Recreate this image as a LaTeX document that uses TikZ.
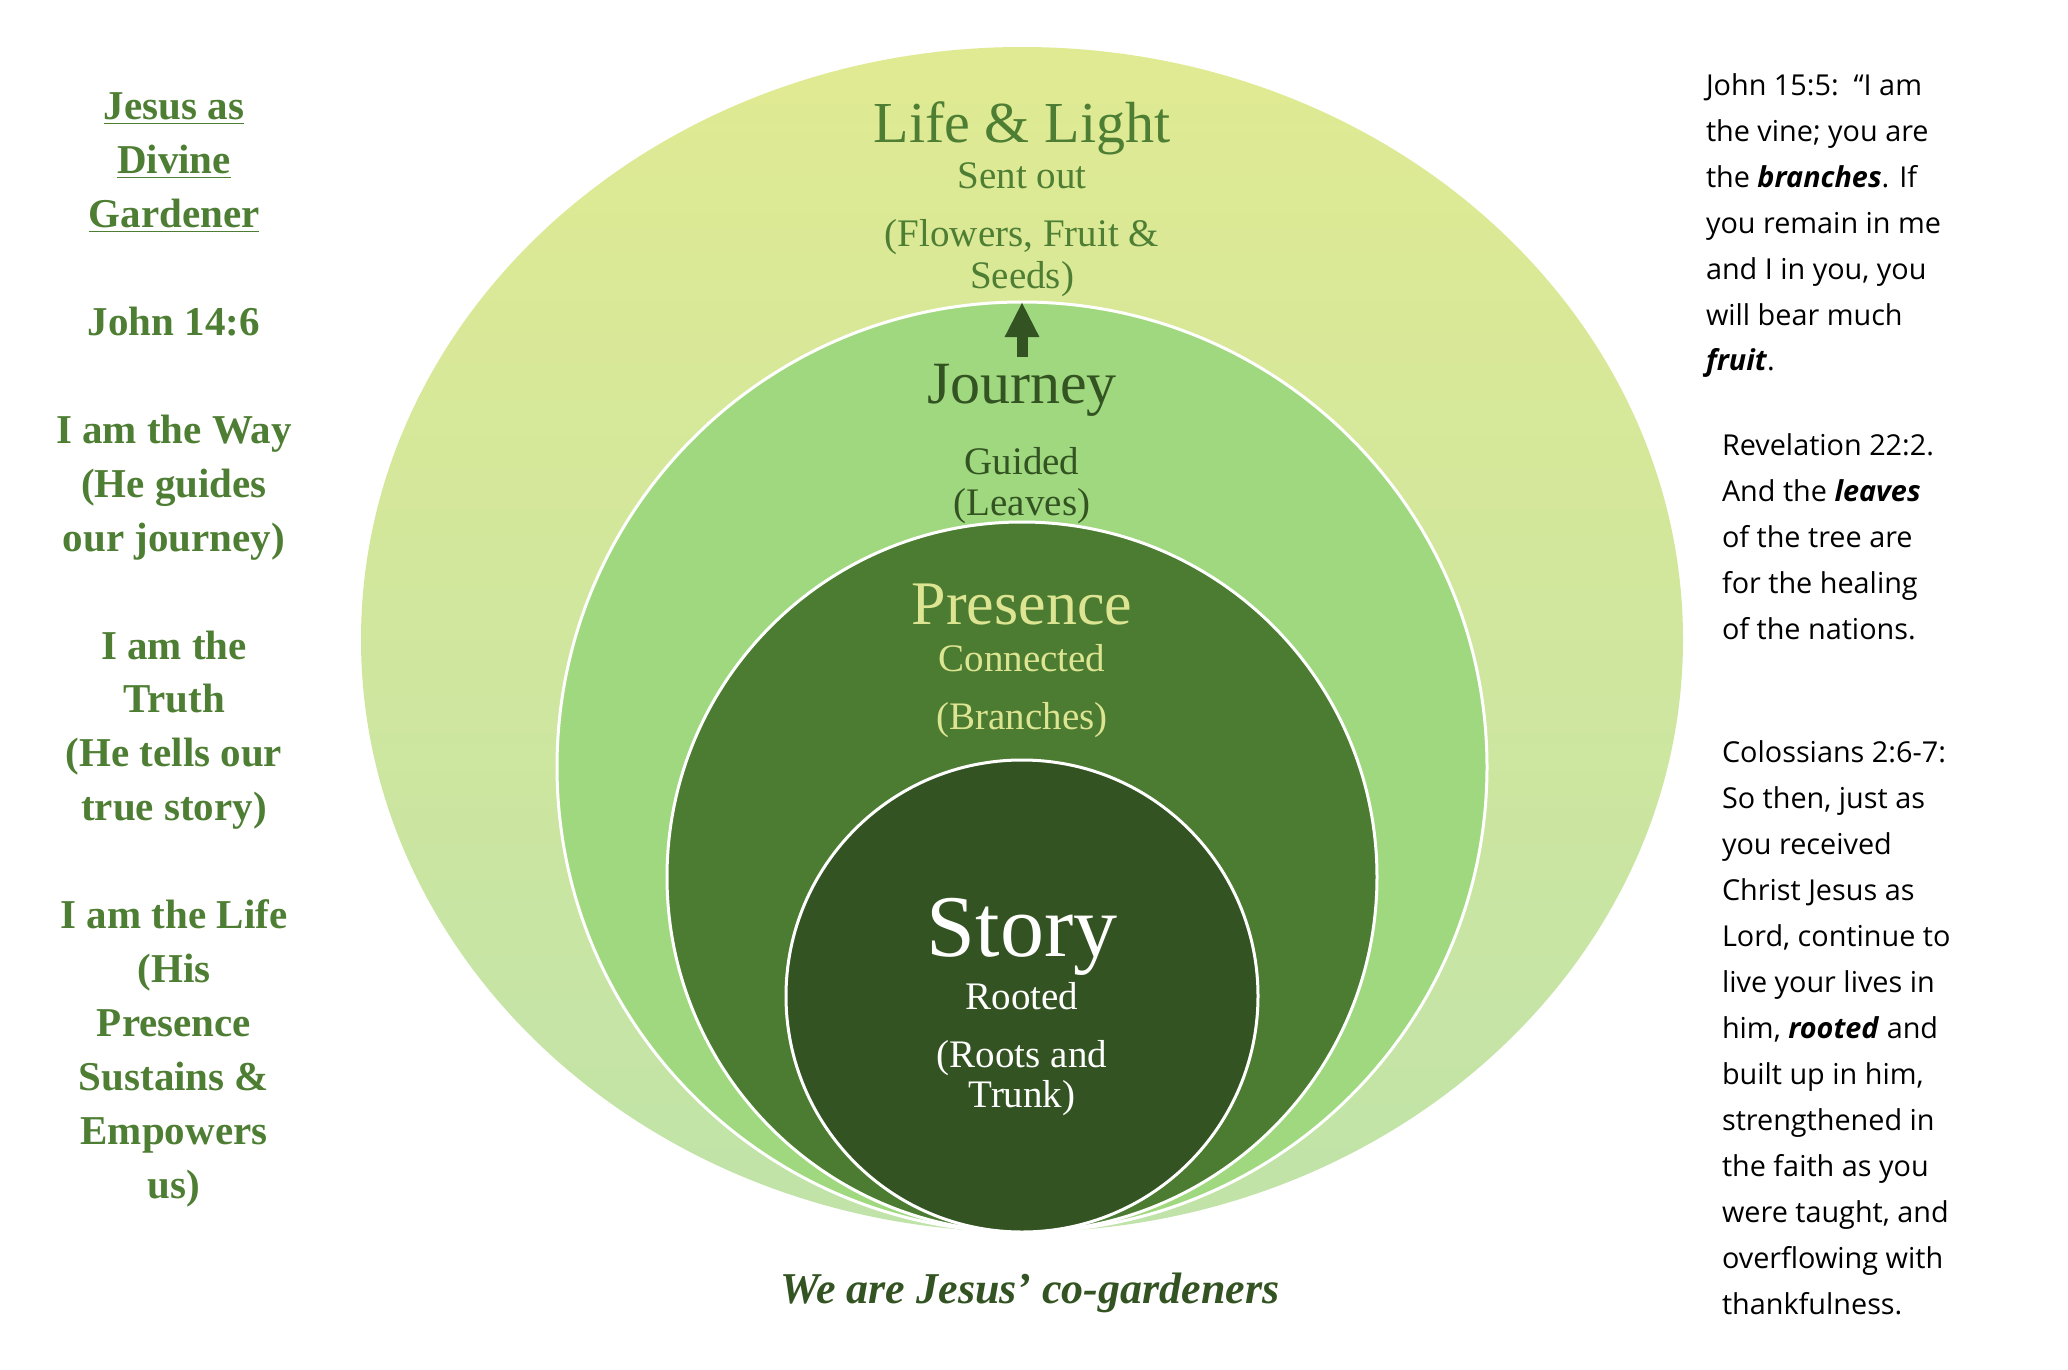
\documentclass[tikz,border=0pt]{standalone}
\usepackage{fontspec}
\setmainfont{Liberation Serif}
\newfontfamily\rsans{Open Sans}
\usetikzlibrary{shapes.geometric, arrows.meta}
\definecolor{ltgreen}{RGB}{160,216,127}
\definecolor{midgreen}{RGB}{76,124,50}
\definecolor{dkgreen}{RGB}{51,84,34}
\definecolor{paleyel}{RGB}{221,229,146}
\definecolor{outertop}{RGB}{224,234,146}
\definecolor{outerbot}{RGB}{192,227,169}
\definecolor{lefttxt}{RGB}{78,126,51}
\tikzset{
  ring/.style={circle, draw=white, line width=1.5pt, inner sep=0pt, outer sep=0pt},
  lbl/.style={anchor=base, inner sep=0pt, outer sep=0pt},
  title/.style={lbl, font=\fontsize{#1}{#1}\selectfont},
  sub/.style={lbl, font=\fontsize{19.5pt}{20pt}\selectfont},
  leftcol/.style={lbl, text=lefttxt, font=\fontsize{20.5pt}{24pt}\selectfont\bfseries},
  rightcol/.style={anchor=base west, inner sep=0pt, outer sep=0pt, text=black, font=\rsans\fontsize{14.4pt}{18pt}\selectfont},
}
\begin{document}
\begin{tikzpicture}[x=0.5pt, y=-0.5pt]
\useasboundingbox (0,0) rectangle (2068,1370);

% concentric shapes
\node[ellipse, inner sep=0pt, outer sep=0pt, minimum width=661pt, minimum height=592.5pt,
      top color=outertop, bottom color=outerbot] (outer) at (1022,639.5) {};
\node[ring, fill=ltgreen, minimum size=465pt] (journey) at (1022,767) {};
\node[ring, fill=midgreen, minimum size=355pt] (presence) at (1022,877) {};
\node[ring, fill=dkgreen, minimum size=236pt] (story) at (1022,996) {};

% arrow
\coordinate (arrowbase) at (1022,357);
\draw[dkgreen, line width=5.5pt, -{Triangle[width=16pt, length=17.5pt]}] (arrowbase) -- (journey.north);

% Life & Light
\node[title=29pt, text=lefttxt] (lifet) at (1022,143) {Life \& Light};
\node[sub, text=lefttxt] (lifes) at (1022,189) {Sent out};
\node[sub, text=lefttxt] (lifef) at (1022,246) {(Flowers, Fruit \&};
\node[sub, text=lefttxt] (lifeg) at (1022,288) {Seeds)};

% Journey
\node[title=30pt, text=dkgreen] (journt) at (1022,403) {Journey};
\node[sub, text=dkgreen] (journs) at (1022,474) {Guided};
\node[sub, text=dkgreen] (journl) at (1022,515) {(Leaves)};

% Presence
\node[title=31pt, text=paleyel] (prest) at (1022,624) {Presence};
\node[sub, text=paleyel] (press) at (1022,671) {Connected};
\node[sub, text=paleyel] (presb) at (1022,729) {(Branches)};

% Story
\node[title=44pt, text=white] (storyt) at (1022,956) {Story};
\node[sub, text=white] (storys) at (1022,1009) {Rooted};
\node[sub, text=white] (storyr) at (1022,1067) {(Roots and};
\node[sub, text=white] (storyk) at (1022,1107) {Trunk)};

% bottom caption
\node[lbl, text=dkgreen, font=\fontsize{22pt}{24pt}\selectfont\bfseries\itshape] (caption) at (1030,1303) {We are Jesus’ co-gardeners};

% left column
\foreach \k/\t in {0/{\underline{Jesus as}}, 1/{\underline{Divine}}, 2/{\underline{Gardener}},
  4/{John 14:6}, 6/{I am the Way}, 7/{(He guides}, 8/{our journey)},
  10/{I am the}, 11/{Truth}, 12/{(He tells our}, 13/{true story)},
  15/{I am the Life}, 16/{(His}, 17/{Presence}, 18/{Sustains \&}, 19/{Empowers}, 20/{us)}}
  \node[leftcol] (lc\k) at (174,{120+53.9*\k}) {\t};

% right column, block 1
\foreach \k/\t in {0/{John 15:5:\ \ “I am}, 1/{the vine; you are}, 2/{the \textbf{\textit{branches}}. If},
  3/{you remain in me}, 4/{and I in you, you}, 5/{will bear much}, 6/{\textbf{\textit{fruit}}.}}
  \node[rightcol] (ra\k) at (1706,{96+45.8*\k}) {\t};

% block 2
\foreach \k/\t in {0/{Revelation 22:2.}, 1/{And the \textbf{\textit{leaves}}}, 2/{of the tree are},
  3/{for the healing}, 4/{of the nations.}}
  \node[rightcol] (rb\k) at (1722,{455+46*\k}) {\t};

% block 3
\foreach \k/\t in {0/{Colossians 2:6-7:}, 1/{So then, just as}, 2/{you received}, 3/{Christ Jesus as},
  4/{Lord, continue to}, 5/{live your lives in}, 6/{him, \textbf{\textit{rooted}} and}, 7/{built up in him,},
  8/{strengthened in}, 9/{the faith as you}, 10/{were taught, and}, 11/{overflowing with}, 12/{thankfulness.}}
  \node[rightcol] (rc\k) at (1722,{762+46*\k}) {\t};
\end{tikzpicture}
\end{document}
